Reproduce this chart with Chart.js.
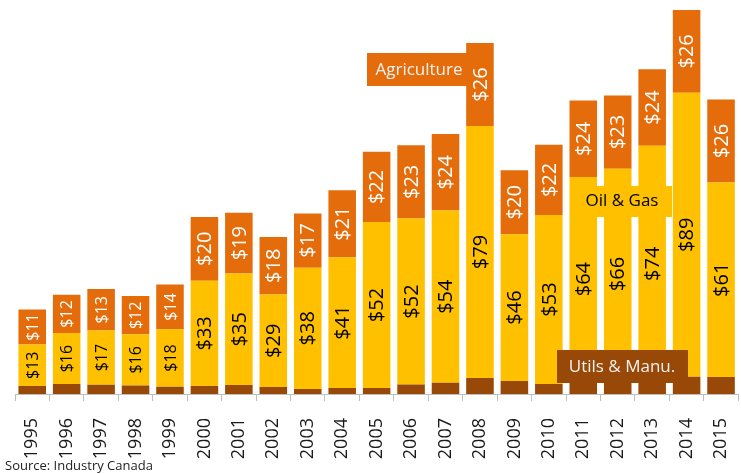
<!DOCTYPE html>
<html>
<head>
<meta charset="utf-8">
<script src="https://cdn.jsdelivr.net/npm/chart.js@4/dist/chart.umd.min.js"></script>
<style>
  html, body { margin: 0; padding: 0; overflow: hidden; background: #fff; }
  #wrap { position: relative; width: 760px; height: 474px; }
</style>
</head>
<body>
<div id="wrap"><canvas id="myChart"></canvas></div>
<script>
// years and values ($ billions)
var years = ['1995','1996','1997','1998','1999','2000','2001','2002','2003','2004','2005',
             '2006','2007','2008','2009','2010','2011','2012','2013','2014','2015'];
var utilsManu = [2.5, 3.1, 2.9, 2.7, 2.3, 2.5, 2.8, 2.2, 1.6, 1.9, 1.9, 3.0, 3.5, 5.0, 4.1, 3.1, 4.0, 4.6, 3.8, 5.4, 5.3];
var oilGas = [13, 16, 17, 16, 18, 33, 35, 29, 38, 41, 52, 52, 54, 79, 46, 53, 64, 66, 74, 89, 61];
var agriculture = [11, 12, 13, 12, 14, 20, 19, 18, 17, 21, 22, 23, 24, 26, 20, 22, 24, 23, 24, 26, 26];

var BROWN = '#984807', GOLD = '#FFC000', ORANGE = '#E46C0A';
var FONT = '"Open Sans", sans-serif';

// rotated value labels inside the bar segments
var valueLabels = {
  id: 'valueLabels',
  afterDatasetsDraw: function(chart) {
    var ctx = chart.ctx;
    [1, 2].forEach(function(di) {
      var meta = chart.getDatasetMeta(di);
      var vals = chart.data.datasets[di].data;
      meta.data.forEach(function(bar, i) {
        var cy = (bar.y + bar.base) / 2;
        ctx.save();
        ctx.translate(bar.x, cy);
        ctx.rotate(-Math.PI / 2);
        ctx.font = (i < 5 ? '16px ' : '20px ') + FONT;
        ctx.fillStyle = di === 1 ? '#000' : '#fff';
        ctx.textAlign = 'center';
        ctx.textBaseline = 'middle';
        ctx.fillText('$' + vals[i], 0, 1);
        ctx.restore();
      });
    });
  }
};

// series name boxes + source note
var notes = {
  id: 'notes',
  afterDatasetsDraw: function(chart) {
    var ctx = chart.ctx;
    ctx.save();
    ctx.textBaseline = 'middle';
    ctx.textAlign = 'center';
    ctx.font = '17px ' + FONT;

    ctx.fillStyle = ORANGE;
    ctx.fillRect(367, 53, 103, 33);
    ctx.fillStyle = '#F2F2F2';
    ctx.fillText('Agriculture', 419, 70);

    ctx.fillStyle = GOLD;
    ctx.fillRect(575, 186, 97, 31);
    ctx.fillStyle = '#000';
    ctx.fillText('Oil & Gas', 622, 201);

    ctx.fillStyle = BROWN;
    ctx.fillRect(557, 350, 131, 33);
    ctx.fillStyle = '#F2F2F2';
    ctx.fillText('Utils & Manu.', 622, 367);

    ctx.textAlign = 'left';
    ctx.textBaseline = 'alphabetic';
    ctx.font = '13px ' + FONT;
    ctx.fillStyle = '#222';
    ctx.fillText('Source: Industry Canada', 5, 470);
    ctx.restore();
  }
};

var ctx = document.getElementById('myChart').getContext('2d');
var chart = new Chart(ctx, {
  type: 'bar',
  data: {
    labels: years,
    datasets: [
      { label: 'Utils & Manu.', data: utilsManu, backgroundColor: BROWN },
      { label: 'Oil & Gas', data: oilGas, backgroundColor: GOLD },
      { label: 'Agriculture', data: agriculture, backgroundColor: ORANGE }
    ]
  },
  options: {
    responsive: true,
    maintainAspectRatio: false,
    animation: false,
    datasets: { bar: { barPercentage: 0.8, categoryPercentage: 1 } },
    layout: { padding: { left: 15, right: 15, top: 0, bottom: 0 } },
    plugins: { legend: { display: false }, tooltip: { enabled: false }, title: { display: false } },
    scales: {
      x: {
        stacked: true,
        afterFit: function(scale) { scale.height = 80; },
        grid: { display: true, drawOnChartArea: false, drawTicks: true, tickLength: 7, color: '#BFBFBF', offset: true },
        border: { display: true, color: '#BFBFBF' },
        ticks: { minRotation: 90, maxRotation: 90, padding: 17, color: '#1a1a1a', font: { family: FONT, size: 18 } }
      },
      y: {
        stacked: true,
        display: false,
        min: 0,
        max: 123.5
      }
    }
  },
  plugins: [valueLabels, notes]
});
</script>
</body>
</html>
